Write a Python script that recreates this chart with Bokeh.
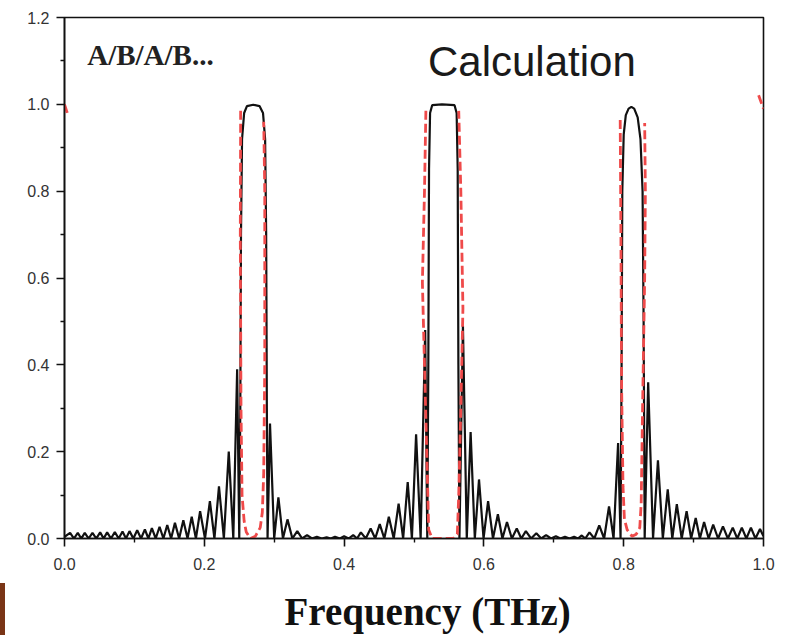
from bokeh.plotting import figure
from bokeh.models import FixedTicker, NumeralTickFormatter, Label, Div, Spacer
from bokeh.layouts import row, column
from bokeh.embed import file_html
from bokeh.resources import INLINE

# ---- data ----
x_ticks = [0.0, 0.2, 0.4, 0.6, 0.8, 1.0]
x_minor = [0.1, 0.3, 0.5, 0.7, 0.9]
y_ticks = [0.0, 0.2, 0.4, 0.6, 0.8, 1.0, 1.2]
y_minor = [0.1, 0.3, 0.5, 0.7, 0.9, 1.1]

# measured transmission (black solid)
black_x = [
    0.000, 0.008, 0.0135, 0.019, 0.024, 0.029, 0.0345, 0.040, 0.0455, 0.051, 0.056,
    0.061, 0.0665, 0.072, 0.0775, 0.083, 0.088, 0.093, 0.0985, 0.104, 0.1095,
    0.115, 0.120, 0.125, 0.1305, 0.136, 0.1415, 0.147, 0.1525, 0.158, 0.164,
    0.170, 0.176, 0.182, 0.188, 0.194, 0.201, 0.208, 0.2145, 0.221, 0.228,
    0.235, 0.2415, 0.247, 0.250,
    0.2515, 0.2525, 0.254, 0.257, 0.261, 0.270, 0.279, 0.284, 0.287, 0.2885, 0.2895, 0.2905,
    0.294, 0.300, 0.306, 0.3125, 0.319, 0.326, 0.333, 0.340, 0.347, 0.354,
    0.361, 0.368, 0.375, 0.381, 0.387, 0.394,
    0.400, 0.4065, 0.413, 0.4185, 0.424, 0.431, 0.438, 0.4445, 0.451, 0.4575,
    0.464, 0.471, 0.478, 0.4845, 0.491, 0.497, 0.503, 0.5095, 0.516, 0.519,
    0.5205, 0.5215, 0.523, 0.526, 0.540, 0.558, 0.561, 0.5625, 0.5635, 0.565,
    0.570, 0.5755, 0.581, 0.587, 0.593, 0.5995, 0.606, 0.613, 0.620, 0.6265,
    0.633, 0.640, 0.647, 0.6535, 0.660, 0.6675, 0.675, 0.682, 0.689, 0.696,
    0.703, 0.7095, 0.716, 0.7225, 0.729, 0.7345, 0.740, 0.745, 0.751, 0.758,
    0.765, 0.772, 0.779, 0.7855, 0.792, 0.7955,
    0.797, 0.798, 0.800, 0.803, 0.807, 0.811, 0.815, 0.820, 0.824, 0.827, 0.8285, 0.830,
    0.835, 0.842, 0.849, 0.856, 0.863, 0.8695, 0.876, 0.883, 0.890, 0.8965,
    0.903, 0.909, 0.915, 0.9215, 0.928, 0.935, 0.942, 0.949, 0.956, 0.9625,
    0.969, 0.9755, 0.982, 0.9885, 0.995, 1.000,
]
black_y = [
    0.004, 0.013, 0.0, 0.013, 0.0, 0.013, 0.0, 0.013, 0.0, 0.014, 0.0,
    0.014, 0.0, 0.015, 0.0, 0.016, 0.0, 0.017, 0.0, 0.019, 0.0,
    0.021, 0.0, 0.024, 0.0, 0.027, 0.0, 0.031, 0.0, 0.036, 0.0,
    0.042, 0.0, 0.050, 0.0, 0.063, 0.0, 0.086, 0.0, 0.120, 0.0,
    0.200, 0.0, 0.390, 0.0,
    0.30, 0.70, 0.92, 0.98, 0.996, 0.999, 0.996, 0.98, 0.92, 0.70, 0.30, 0.0,
    0.265, 0.0, 0.095, 0.0, 0.044, 0.0, 0.017, 0.0, 0.008, 0.0,
    0.004, 0.0, 0.003, 0.0, 0.004, 0.0,
    0.005, 0.0, 0.008, 0.0, 0.014, 0.0, 0.023, 0.0, 0.033, 0.0,
    0.050, 0.0, 0.080, 0.0, 0.130, 0.0, 0.240, 0.0, 0.480, 0.0,
    0.40, 0.85, 0.98, 0.998, 1.0, 0.998, 0.98, 0.85, 0.40, 0.0,
    0.490, 0.0, 0.245, 0.0, 0.136, 0.0, 0.086, 0.0, 0.056, 0.0,
    0.038, 0.0, 0.023, 0.0, 0.017, 0.0, 0.012, 0.0, 0.008, 0.0,
    0.005, 0.0, 0.004, 0.0, 0.004, 0.0, 0.007, 0.0, 0.014, 0.0,
    0.030, 0.0, 0.074, 0.0, 0.220, 0.0,
    0.40, 0.80, 0.93, 0.975, 0.99, 0.994, 0.99, 0.97, 0.92, 0.80, 0.50, 0.0,
    0.360, 0.0, 0.180, 0.0, 0.113, 0.0, 0.079, 0.0, 0.063, 0.0,
    0.047, 0.0, 0.038, 0.0, 0.032, 0.0, 0.028, 0.0, 0.025, 0.0,
    0.025, 0.0, 0.025, 0.0, 0.022, 0.005,
]

# calculated transmission (red dashed), visible pieces
red_left_x = [0.000, 0.004]
red_left_y = [1.000, 0.980]
red_b1_x = [0.252, 0.2515, 0.2525, 0.254, 0.257, 0.260, 0.266, 0.273, 0.280, 0.283, 0.285, 0.2865, 0.2865, 0.285]
red_b1_y = [0.985, 0.70, 0.30, 0.10, 0.04, 0.015, 0.0, 0.005, 0.025, 0.06, 0.15, 0.40, 0.80, 0.96]
red_b2_x = [0.517, 0.515, 0.512, 0.515, 0.519, 0.521, 0.526, 0.540, 0.556, 0.562, 0.564, 0.567, 0.570, 0.567, 0.564]
red_b2_y = [0.985, 0.80, 0.59, 0.40, 0.15, 0.02, 0.0, 0.0, 0.0, 0.01, 0.10, 0.30, 0.53, 0.80, 0.985]
red_b3_x = [0.795, 0.796, 0.797, 0.799, 0.801, 0.805, 0.812, 0.818, 0.823, 0.825, 0.827, 0.830, 0.831, 0.830]
red_b3_y = [0.964, 0.70, 0.35, 0.12, 0.045, 0.02, 0.005, 0.01, 0.025, 0.08, 0.30, 0.60, 0.80, 0.957]
red_right_x = [0.993, 1.000]
red_right_y = [1.021, 0.990]

# ---- figure ----
p = figure(width=784, height=635, x_range=(0, 1.0), y_range=(0, 1.2),
           output_backend="svg", toolbar_location=None,
           min_border_left=59, min_border_right=26, min_border_top=17, min_border_bottom=96)
p.background_fill_color = "white"
p.border_fill_color = "white"
p.xgrid.visible = False
p.ygrid.visible = False
p.outline_line_color = "#111111"
p.outline_line_width = 1.6

for ax, ticks, minor in ((p.xaxis[0], x_ticks, x_minor), (p.yaxis[0], y_ticks, y_minor)):
    ax.ticker = FixedTicker(ticks=ticks, minor_ticks=minor)
    ax.formatter = NumeralTickFormatter(format="0.0")
    ax.axis_line_color = "#111111"
    ax.axis_line_width = 1.6
    ax.major_tick_line_color = "#111111"
    ax.major_tick_line_width = 1.6
    ax.minor_tick_line_color = "#111111"
    ax.minor_tick_line_width = 1.4
    ax.major_tick_in = 0
    ax.major_tick_out = 8
    ax.minor_tick_in = 0
    ax.minor_tick_out = 4
    ax.major_label_text_font = "Liberation Sans"
    ax.major_label_text_font_size = "16px"
    ax.major_label_text_color = "#333333"

p.xaxis.major_label_standoff = 11
p.yaxis.major_label_standoff = 7

p.xaxis.axis_label = "\u2002\u2009Frequency (THz)"
p.xaxis.axis_label_text_font = "Liberation Serif"
p.xaxis.axis_label_text_font_style = "bold"
p.xaxis.axis_label_text_font_size = "39px"
p.xaxis.axis_label_text_color = "#111111"
p.xaxis.axis_label_standoff = 17

p.line(black_x, black_y, line_color="#111111", line_width=2.2)
p.multi_line([red_left_x, red_b1_x, red_b2_x, red_b3_x, red_right_x],
             [red_left_y, red_b1_y, red_b2_y, red_b3_y, red_right_y],
             line_color="#ef4a4a", line_width=2.8, line_dash="9 4")

p.add_layout(Label(x=0.0325, y=1.113, text="A/B/A/B...", text_font="Liberation Serif",
                   text_font_style="bold", text_font_size="29px", text_color="#222222",
                   text_baseline="alphabetic", text_align="left"))
p.add_layout(Label(x=0.52, y=1.098, text="Calculation", text_font="Liberation Sans",
                   text_font_size="42px", text_color="#1a1a1a",
                   text_baseline="alphabetic", text_align="left"))

brown = Div(text="", width=5, height=52, margin=0,
            styles={"background-color": "#7a3516"})
left_strip = column(Spacer(width=5, height=583, margin=0), brown, spacing=0)
page = row(left_strip, p, spacing=0)

open("out.html", "w").write(file_html(page, INLINE))
